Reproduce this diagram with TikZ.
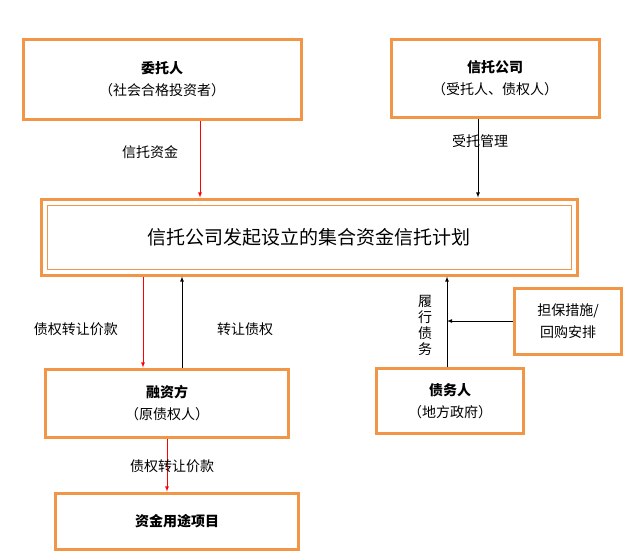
\documentclass[tikz,border=0pt]{standalone}
\usepackage{fontspec}
\setmainfont{Noto Sans CJK SC}
\usetikzlibrary{positioning}
\definecolor{boxorange}{RGB}{240,150,70}
\begin{document}
\begin{tikzpicture}
    [x=1pt,y=-1pt,
    box/.style={draw=boxorange,line width=3pt,align=center,inner sep=0pt,font=\fontsize{14}{22}\selectfont},
    lab/.style={font=\fontsize{14}{17}\selectfont},
    arr/.style={-latex,line width=0.8pt},
    redarr/.style={-latex,line width=0.8pt,red}]
    \useasboundingbox (0,0) rectangle (640,557);
    \node[box,minimum width=278,minimum height=80] (client) at (162,79)
        {\textbf{委托人}\\（社会合格投资者）};
    \node[box,minimum width=208,minimum height=78] (trustco) at (495,78)
        {\textbf{信托公司}\\（受托人、债权人）};
    \node[box,minimum width=536,minimum height=76,font=\fontsize{19}{20}\selectfont] (plan) at (309,237)
        {信托公司发起设立的集合资金信托计划};
    \node[draw=boxorange,line width=1pt,minimum width=524,minimum height=64] (planin) at (309,237) {};
    \node[box,minimum width=243,minimum height=68] (financer) at (167,403)
        {\textbf{融资方}\\（原债权人）};
    \node[box,minimum width=147,minimum height=65] (debtor) at (450,401)
        {\textbf{债务人}\\（地方政府）};
    \node[box,minimum width=107,minimum height=66] (guar) at (568,321)
        {担保措施/\\回购安排};
    \node[box,minimum width=243,minimum height=56] (usage) at (177,521)
        {\textbf{资金用途项目}};
    % arrows
    \draw[redarr] (client.south -| 200,0) -- (plan.north -| 200,0);
    \node[lab] (tfund) at (150,152) {信托资金};
    \draw[arr] (trustco.south -| 478,0) -- (plan.north -| 478,0);
    \node[lab] (manage) at (480,141) {受托管理};
    \draw[redarr] (plan.south -| 143,0) -- (financer.north -| 143,0);
    \node[lab] (price) at (76,329) {债权转让价款};
    \draw[arr] (financer.north -| 182,0) -- (plan.south -| 182,0);
    \node[lab] (transfer) at (245,329) {转让债权};
    \draw[arr] (debtor.north -| 447,0) -- (plan.south -| 447,0);
    \node[lab,align=center,font=\fontsize{14}{16}\selectfont] (perform) at (425,325) {履\\行\\债\\务};
    \draw[arr] (guar.west) -- (guar.west -| 447,0);
    \draw[redarr] (financer.south) -- (usage.north -| financer.south);
    \node[lab] (price2) at (172,466) {债权转让价款};
\end{tikzpicture}
\end{document}
